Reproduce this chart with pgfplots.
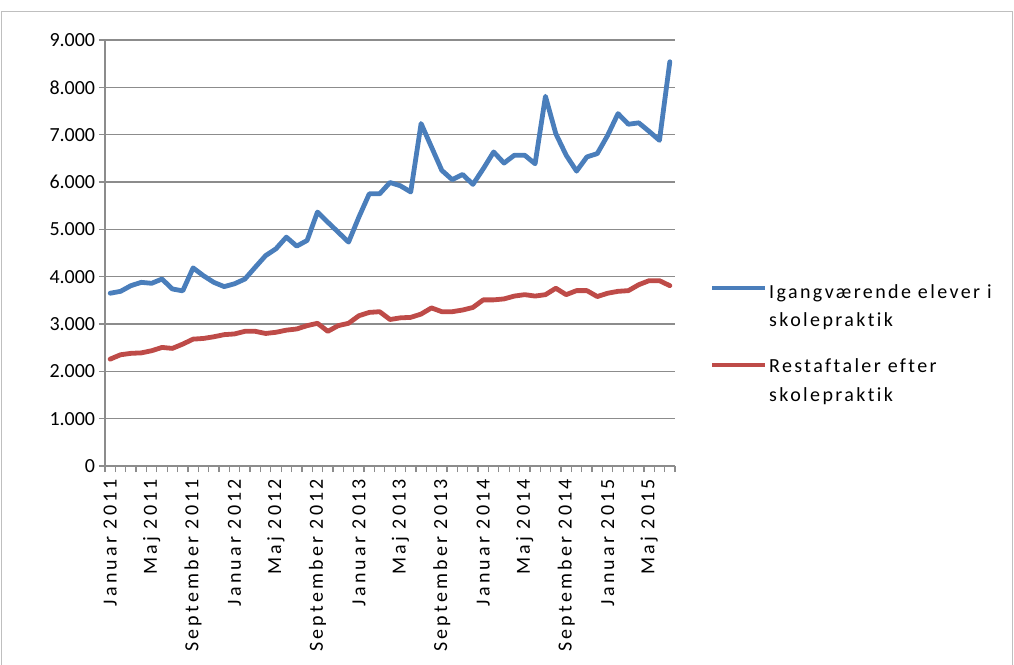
\documentclass[border=0pt]{standalone}
\usepackage{pgfplots}
\pgfplotsset{compat=1.18}
\usepackage{fontspec}
\setmainfont{Carlito}
\newfontfamily\spaced{Carlito}[LetterSpace=12,Ligatures=NoCommon]
\newfontfamily\spacedx{Carlito}[LetterSpace=16,Ligatures=NoCommon]
\definecolor{xlblue}{HTML}{4A7EBB}
\definecolor{xlred}{HTML}{BE4B48}
\definecolor{gridgray}{HTML}{8C8C8C}

\pgfplotstableread{
i elever rest
0 3650 2258
1 3690 2350
2 3810 2380
3 3880 2390
4 3860 2435
5 3950 2505
6 3740 2485
7 3700 2575
8 4185 2680
9 4020 2695
10 3880 2730
11 3790 2775
12 3850 2790
13 3950 2845
14 4200 2845
15 4445 2800
16 4590 2825
17 4835 2870
18 4645 2895
19 4765 2965
20 5365 3015
21 5150 2845
22 4940 2965
23 4730 3015
24 5260 3175
25 5750 3245
26 5750 3260
27 5990 3095
28 5920 3130
29 5790 3140
30 7235 3210
31 6740 3340
32 6245 3260
33 6050 3260
34 6160 3295
35 5950 3350
36 6280 3510
37 6635 3510
38 6400 3530
39 6565 3590
40 6565 3620
41 6385 3590
42 7810 3620
43 7020 3755
44 6565 3620
45 6230 3705
46 6530 3705
47 6600 3580
48 6985 3650
49 7445 3690
50 7220 3705
51 7250 3830
52 7070 3915
53 6880 3915
54 8540 3810
}\datatable

\begin{document}
\fontsize{20}{24}\selectfont
\begin{tikzpicture}[x=1pt,y=1pt,font=\fontsize{20}{24}\selectfont]
\path[use as bounding box] (0,0) rectangle (1014,664);
\draw[gray!50, line width=1pt] (1,-10) rectangle (1012,652);
\begin{axis}[
  at={(105pt,198pt)}, anchor=south west,
  scale only axis, width=570pt, height=426pt,
  xmin=-0.5, xmax=54.5, ymin=0, ymax=9000,
  axis x line*=bottom, axis y line*=left,
  axis line style={gridgray, line width=1.2pt},
  ytick={0,1000,...,9000},
  ymajorgrids,
  major grid style={gridgray, line width=1.2pt},
  tick align=outside,
  major tick length=6pt,
  minor tick length=6pt,
  major y tick style={gridgray, line width=1.2pt},
  major x tick style={draw=none},
  minor x tick style={gridgray, line width=1.2pt},
  xtick={0,4,...,52},
  minor xtick={-0.5,0.5,...,55},
  xticklabels={Januar 2011,Maj 2011,September 2011,Januar 2012,Maj 2012,September 2012,Januar 2013,Maj 2013,September 2013,Januar 2014,Maj 2014,September 2014,Januar 2015,Maj 2015},
  xticklabel style={rotate=90, anchor=east, font=\fontsize{20}{24}\selectfont\spacedx},
  yticklabel style={font=\fontsize{20}{24}\selectfont, xshift=3pt},
  /pgf/number format/.cd, 1000 sep={.}, assume math mode=true,
]
\addplot[xlblue, line width=4.8pt, line join=round, line cap=round] table[x=i, y=elever] {\datatable};
\addplot[xlred, line width=4.8pt, line join=round, line cap=round] table[x=i, y=rest] {\datatable};
\end{axis}
\draw[xlblue, line width=4.8pt] (712,376) -- (765,376);
\node[anchor=base west, inner sep=0pt] at (769,365) {\spaced Igangværende elever i};
\node[anchor=base west, inner sep=0pt] at (769,337) {\spaced skolepraktik};
\draw[xlred, line width=4.8pt] (712,299) -- (765,299);
\node[anchor=base west, inner sep=0pt] at (769,291) {\spaced Restaftaler efter};
\node[anchor=base west, inner sep=0pt] at (769,262) {\spaced skolepraktik};
\end{tikzpicture}
\end{document}
